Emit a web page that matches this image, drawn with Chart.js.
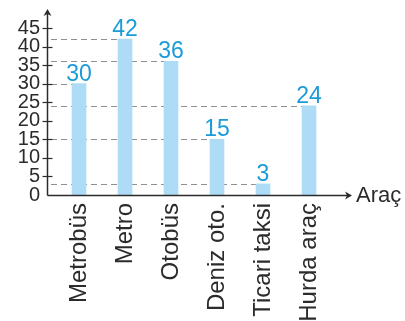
<!DOCTYPE html>
<html>
<head>
<meta charset="utf-8">
<script src="https://cdn.jsdelivr.net/npm/chart.js@4.4.1/dist/chart.umd.min.js"></script>
<style>
  html, body { margin: 0; padding: 0; background: #fff; }
  #wrap { width: 405px; height: 321px; position: relative; }
</style>
</head>
<body>
<div id="wrap"><canvas id="c" width="405" height="321"></canvas></div>
<script>
// Vehicle categories and counts
const categories = ['Metrobüs', 'Metro', 'Otobüs', 'Deniz oto.', 'Ticari taksi', 'Hurda araç'];
const counts = [30, 42, 36, 15, 3, 24];
const yTicks = [0, 5, 10, 15, 20, 25, 30, 35, 40, 45];
const xAxisTitle = 'Araç';

const AXIS_COLOR = '#2b2b2b';
const BAR_COLOR = '#aedcf6';
const VALUE_COLOR = '#1b9bd8';
const GUIDE_COLOR = '#8f8f8f';
const AXIS_GAP = 9;          // y axis sits this far left of the plotting area

const axesPlugin = {
  id: 'axesAndGuides',
  beforeDatasetsDraw(chart) {
    const { ctx, chartArea, scales } = chart;
    const meta = chart.getDatasetMeta(0);
    const axisX = chartArea.left - AXIS_GAP;
    ctx.save();
    // dashed guides from the y axis to each bar top
    ctx.strokeStyle = GUIDE_COLOR;
    ctx.lineWidth = 1;
    ctx.setLineDash([6, 4]);
    meta.data.forEach((bar, i) => {
      const y = Math.round(scales.y.getPixelForValue(counts[i])) + 0.5;
      const xEnd = bar.x - bar.width / 2;
      ctx.beginPath();
      ctx.moveTo(axisX + 4, y);
      ctx.lineTo(xEnd, y);
      ctx.stroke();
    });
    ctx.restore();
  },
  afterDatasetsDraw(chart) {
    const { ctx, chartArea, scales } = chart;
    const meta = chart.getDatasetMeta(0);
    const axisX = Math.round(chartArea.left - AXIS_GAP) + 0.5;
    const axisY = Math.round(scales.y.getPixelForValue(0)) + 0.5;
    ctx.save();
    ctx.strokeStyle = AXIS_COLOR;
    ctx.fillStyle = AXIS_COLOR;
    ctx.lineWidth = 1.5;
    // y axis with arrow
    const yTop = chartArea.top - 19;
    ctx.beginPath();
    ctx.moveTo(axisX, axisY);
    ctx.lineTo(axisX, yTop + 4);
    ctx.stroke();
    ctx.beginPath();
    ctx.moveTo(axisX, yTop);
    ctx.lineTo(axisX - 4, yTop + 7);
    ctx.lineTo(axisX, yTop + 5);
    ctx.lineTo(axisX + 4, yTop + 7);
    ctx.closePath();
    ctx.fill();
    // x axis with arrow
    const xEnd = chartArea.right + 20;
    ctx.beginPath();
    ctx.moveTo(axisX, axisY);
    ctx.lineTo(xEnd - 4, axisY);
    ctx.stroke();
    ctx.beginPath();
    ctx.moveTo(xEnd, axisY);
    ctx.lineTo(xEnd - 7, axisY - 4);
    ctx.lineTo(xEnd - 5, axisY);
    ctx.lineTo(xEnd - 7, axisY + 4);
    ctx.closePath();
    ctx.fill();
    // tick marks crossing the y axis
    ctx.lineWidth = 1.2;
    yTicks.forEach(v => {
      if (v === 0) return;
      const y = Math.round(scales.y.getPixelForValue(v)) + 0.5;
      ctx.beginPath();
      ctx.moveTo(axisX - 5, y);
      ctx.lineTo(axisX + 5, y);
      ctx.stroke();
    });
    // axis title
    ctx.font = '22px "Liberation Sans", Arial, sans-serif';
    ctx.textBaseline = 'middle';
    ctx.textAlign = 'left';
    ctx.fillText(xAxisTitle, xEnd + 4, axisY);
    // value labels above bars
    ctx.fillStyle = VALUE_COLOR;
    ctx.font = '23px "Liberation Sans", Arial, sans-serif';
    ctx.textAlign = 'center';
    ctx.textBaseline = 'alphabetic';
    meta.data.forEach((bar, i) => {
      ctx.fillText(String(counts[i]), bar.x, bar.y - 3);
    });
    ctx.restore();
  }
};

new Chart(document.getElementById('c'), {
  type: 'bar',
  data: {
    labels: categories,
    datasets: [{
      data: counts,
      backgroundColor: BAR_COLOR,
      borderWidth: 0,
      barThickness: 14
    }]
  },
  options: {
    responsive: false,
    animation: false,
    events: [],
    layout: { padding: { top: 23, right: 73, bottom: 0, left: 0 } },
    plugins: { legend: { display: false }, tooltip: { enabled: false } },
    scales: {
      x: {
        offset: true,
        grid: { display: false, drawTicks: false },
        border: { display: false },
        ticks: {
          autoSkip: false,
          minRotation: 90,
          maxRotation: 90,
          padding: 8,
          color: '#2b2b2b',
          font: { family: '"Liberation Sans", Arial, sans-serif', size: 24 }
        },
        afterFit(scale) { scale.height = 126; }
      },
      y: {
        min: 0,
        max: 45,
        afterBuildTicks(scale) { scale.ticks = yTicks.map(v => ({ value: v })); },
        grid: { display: false, drawTicks: false },
        border: { display: false },
        ticks: {
          autoSkip: false,
          padding: 16,
          color: '#2b2b2b',
          font: { family: '"Liberation Sans", Arial, sans-serif', size: 20 }
        },
        afterFit(scale) { scale.width = 56; }
      }
    }
  },
  plugins: [axesPlugin]
});
</script>
</body>
</html>
